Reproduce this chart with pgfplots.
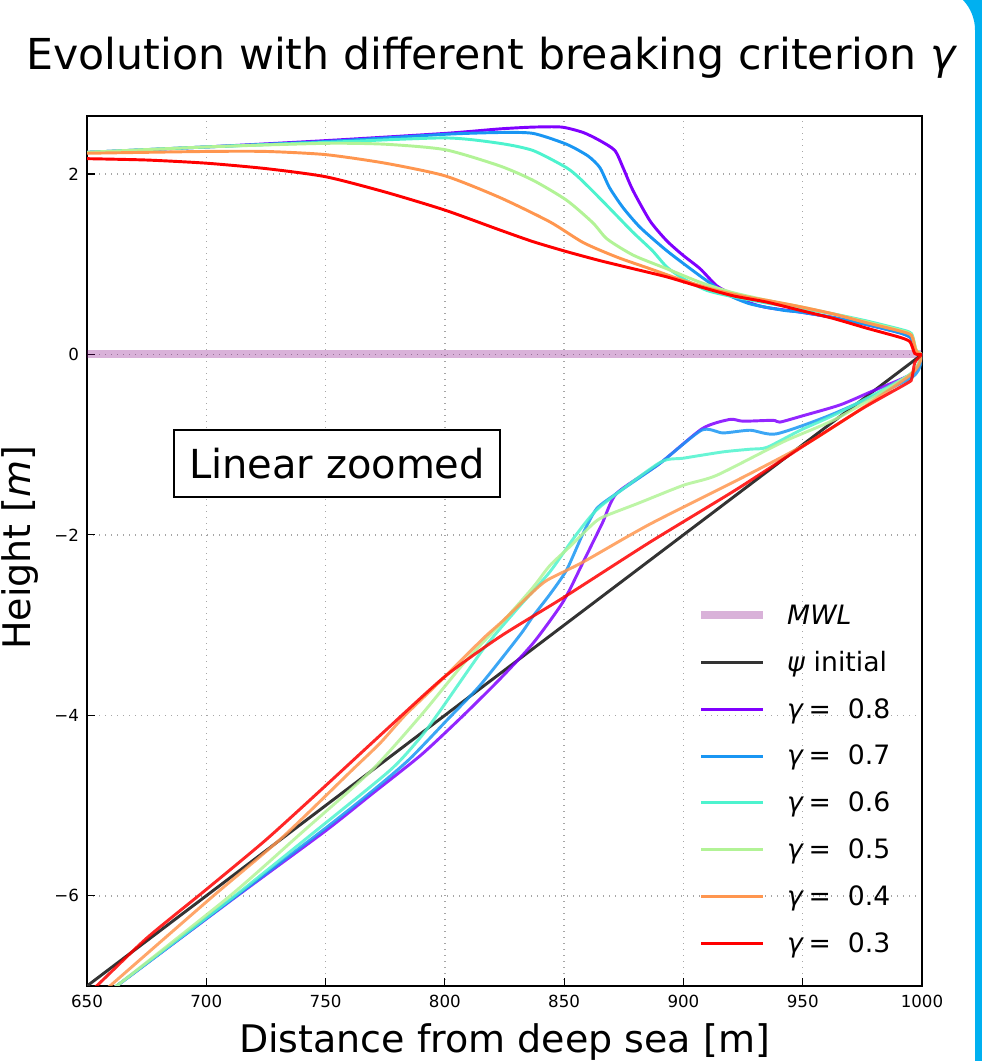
\documentclass[border=0pt]{standalone}
\usepackage{pgfplots}
\pgfplotsset{compat=1.18}
\usepackage{fontspec}
\setmainfont{DejaVu Sans}

% matplotlib rainbow colours
\definecolor{c8}{HTML}{8000FF}
\definecolor{c7}{HTML}{1996F3}
\definecolor{c6}{HTML}{4DF3CE}
\definecolor{c5}{HTML}{B2F396}
\definecolor{c4}{HTML}{FF964F}
\definecolor{c3}{HTML}{FF0000}
\definecolor{mwl}{HTML}{800080}
\definecolor{psi}{HTML}{333333}
\definecolor{slide}{HTML}{00B0F0}

\pgfplotsset{
  top/.style={line width=2.2pt, smooth, tension=0.4},
  bed/.style={line width=2.2pt, smooth, tension=0.4, opacity=0.85, forget plot},
}

\begin{document}
\begin{tikzpicture}[x=1pt,y=1pt]
\begin{axis}[
    at={(65.25pt,56.25pt)}, anchor=south west,
    scale only axis,
    width=626.25pt, height=652.5pt,
    xmin=650, xmax=1000,
    ymin=-7, ymax=2.643,
    xtick={650,700,750,800,850,900,950,1000},
    xticklabels={650,700,750,800,850,900,950,1000},
    ytick={-6,-4,-2,0,2},
    yticklabels={−6,−4,−2,0,2},
    tick align=inside,
    tick pos=left,
    major tick length=6pt,
    tick style={black, line width=0.9pt},
    axis line style={line width=1.1pt},
    tick label style={font=\fontsize{12.5}{15}\selectfont},
    yticklabel style={xshift=-2.5pt},
    xticklabel style={yshift=-3pt},
    grid=major,
    major grid style={gray!70, line width=1.1pt, dash pattern=on 1.1pt off 3.4pt},
    legend style={
        at={(0.7305,0.4417)}, anchor=north west,
        draw=none, fill=none, inner sep=0pt,
        nodes={font=\fontsize{20}{24}\selectfont},
        row sep=14.75pt, column sep=13.5pt,
    },
    legend cell align=left,
    legend image code/.code={\draw[#1] (0pt,0pt) -- (46pt,0pt);},
]

% --- mean water level ---
\addplot[mwl, opacity=0.3, line width=6pt] coordinates {(650,0) (1000,0)};
\addlegendentry{\textit{MWL}}

% --- initial bed profile ---
\addplot[psi, line width=2.2pt] coordinates {(640,-7.2) (1000,0)};
\addlegendentry{\textit{ψ} initial}

% --- gamma = 0.8 ---
\addplot[c8, top] coordinates {
  (650,2.24) (700,2.30) (750,2.37) (800,2.45) (823,2.50) (837,2.52) (849,2.52)
  (858,2.46) (865,2.37) (871.3,2.26) (874.7,2.07) (878.8,1.82) (886,1.48)
  (893,1.26) (899.8,1.10) (907,0.95) (914,0.76) (920.8,0.66) (928,0.57)
  (935,0.52) (948.8,0.47) (962.7,0.41) (977,0.33) (990.7,0.24) (995.5,0.18)
  (997.5,0.02) (1000,0)
};
\addlegendentry{\textit{γ}\,=\ \ 0.8}
\addplot[c8, bed] coordinates {
  (1000,0) (996,-0.21) (978,-0.42) (965.6,-0.56) (950,-0.68) (940.4,-0.75)
  (937.6,-0.73) (925,-0.74) (919.5,-0.72) (908,-0.82) (890,-1.21) (872,-1.54)
  (866,-1.87) (858,-2.30) (849.6,-2.74) (837,-3.20) (823,-3.60) (807,-4.02)
  (790,-4.44) (770,-4.86) (750,-5.28) (713,-6.0) (662.4,-7.0) (657,-7.1)
};

% --- gamma = 0.7 ---
\addplot[c7, top] coordinates {
  (650,2.24) (700,2.30) (750,2.36) (800,2.44) (823,2.46) (837,2.45) (851,2.33)
  (860,2.20) (865,2.07) (869,1.85) (874.6,1.63) (881.8,1.41) (893,1.15)
  (907,0.87) (918,0.67) (928,0.56) (941.7,0.49) (948.8,0.47) (962.7,0.41)
  (977,0.33) (990.7,0.24) (995.5,0.18) (997.5,0.02) (1000,0)
};
\addlegendentry{\textit{γ}\,=\ \ 0.7}
\addplot[c7, bed] coordinates {
  (1000,0) (996,-0.25) (962.7,-0.66) (939,-0.88) (928,-0.84) (916.6,-0.87)
  (907.6,-0.84) (890,-1.21) (872,-1.54) (863.6,-1.71) (858,-1.98) (851,-2.39)
  (844,-2.66) (837,-2.90) (831.5,-3.11) (815,-3.66) (801,-4.05) (785,-4.49)
  (770,-4.83) (750,-5.25) (712.7,-6.0) (662.4,-7.0) (657,-7.1)
};

% --- gamma = 0.6 ---
\addplot[c6, top] coordinates {
  (650,2.24) (700,2.30) (750,2.35) (800,2.40) (823,2.34) (837,2.26) (851,2.07)
  (856.6,1.95) (865,1.73) (872,1.54) (879,1.35) (887,1.15) (893,0.97)
  (900,0.84) (909.8,0.71) (920.8,0.64) (935,0.57) (948.8,0.51) (962.7,0.45)
  (977,0.37) (990.7,0.28) (995.6,0.23) (997.5,0.05) (1000,0)
};
\addlegendentry{\textit{γ}\,=\ \ 0.6}
\addplot[c6, bed] coordinates {
  (1000,0) (995,-0.22) (965.6,-0.64) (949,-0.84) (935,-1.03) (928,-1.05)
  (916.6,-1.08) (900,-1.15) (890,-1.20) (865,-1.69) (855,-2.00) (844,-2.41)
  (830,-2.83) (816,-3.27) (798,-3.95) (789.6,-4.25) (777,-4.61) (745,-5.30)
  (712,-6.0) (662.4,-7.0) (657,-7.1)
};

% --- gamma = 0.5 ---
\addplot[c5, top] coordinates {
  (650,2.24) (700,2.30) (750,2.34) (775,2.33) (800,2.27) (823,2.09) (837,1.93)
  (851,1.71) (862,1.46) (868,1.28) (879,1.10) (893,0.95) (907,0.80)
  (920,0.69) (935,0.60) (948.8,0.53) (962.7,0.45) (977,0.36) (990.7,0.27)
  (995.6,0.22) (997.5,0.05) (1000,0)
};
\addlegendentry{\textit{γ}\,=\ \ 0.5}
\addplot[c5, bed] coordinates {
  (1000,0) (995,-0.22) (965,-0.70) (941.7,-0.97) (913.9,-1.34) (900,-1.45)
  (881,-1.65) (866.4,-1.80) (862,-1.88) (852.4,-2.13) (844,-2.34) (837,-2.58)
  (825,-2.94) (809,-3.39) (790,-4.0) (769.3,-4.61) (740,-5.30)
  (710,-6.0) (662.4,-7.0) (657,-7.1)
};

% --- gamma = 0.4 ---
\addplot[c4, top] coordinates {
  (650,2.23) (700,2.25) (725,2.25) (750,2.215) (775,2.12) (800,1.98)
  (823,1.74) (844,1.47) (858,1.24) (872,1.08) (886,0.95) (900,0.82) (914,0.71)
  (928,0.63) (935,0.60) (948.8,0.53) (962.7,0.45) (977,0.35) (990.7,0.26)
  (995.6,0.21) (997.5,0.04) (1000,0)
};
\addlegendentry{\textit{γ}\,=\ \ 0.4}
\addplot[c4, bed] coordinates {
  (1000,0) (995,-0.23) (956,-0.92) (928,-1.32) (886,-1.88) (858,-2.30)
  (843,-2.50) (837,-2.63) (824,-2.96) (816,-3.15) (796.6,-3.66) (783.3,-4.0)
  (772.8,-4.31) (761,-4.61) (732,-5.35) (703,-6.0) (659.6,-7.0) (655,-7.1)
};

% --- gamma = 0.3 ---
\addplot[c3, top] coordinates {
  (650,2.17) (675,2.155) (700,2.12) (725,2.06) (750,1.97) (775,1.80) (800,1.60)
  (823,1.38) (837,1.25) (851,1.14) (865,1.04) (879,0.95) (893,0.86) (907,0.75)
  (920.8,0.65) (935,0.58) (948.8,0.49) (962.7,0.40) (977,0.29) (990.7,0.19)
  (995,0.14) (997,0.01) (1000,0)
};
\addlegendentry{\textit{γ}\,=\ \ 0.3}
\addplot[c3, bed] coordinates {
  (1000,0) (997,-0.09) (995.7,-0.27) (993.7,-0.32) (975,-0.60) (950,-1.02)
  (922,-1.50) (886,-2.08) (850,-2.69) (823,-3.13) (800,-3.57) (775,-4.17)
  (750,-4.78) (725,-5.38) (700,-5.93) (675,-6.47) (654,-7.0) (645,-7.2)
};

\node[draw=black, line width=1.9pt, fill=white, minimum width=244.5pt,
      minimum height=50pt, inner sep=0pt, font=\fontsize{30}{36}\selectfont]
      at (axis cs:754.8,-1.208) {Linear zoomed};
\end{axis}

% title and axis labels
\node[anchor=base, font=\fontsize{32}{38}\selectfont] at (369,743.6)
  {Evolution with different breaking criterion \textit{γ}};
\node[anchor=base, font=\fontsize{28.5}{34}\selectfont] at (378.4,6)
  {Distance from deep sea [m]};
\node[rotate=90, anchor=base, font=\fontsize{28.5}{34}\selectfont] at (23.25,385)
  {Height [\textit{m}]};

% slide border on the right
\fill[slide] (736.5,795.75) -- (722.25,795.75)
  arc[start angle=43.6, end angle=0, radius=32.625] -- (731.25,0) -- (736.5,0) -- cycle;

\pgfresetboundingbox
\path[use as bounding box] (0,0) rectangle (736.5,795.75);
\end{tikzpicture}
\end{document}
